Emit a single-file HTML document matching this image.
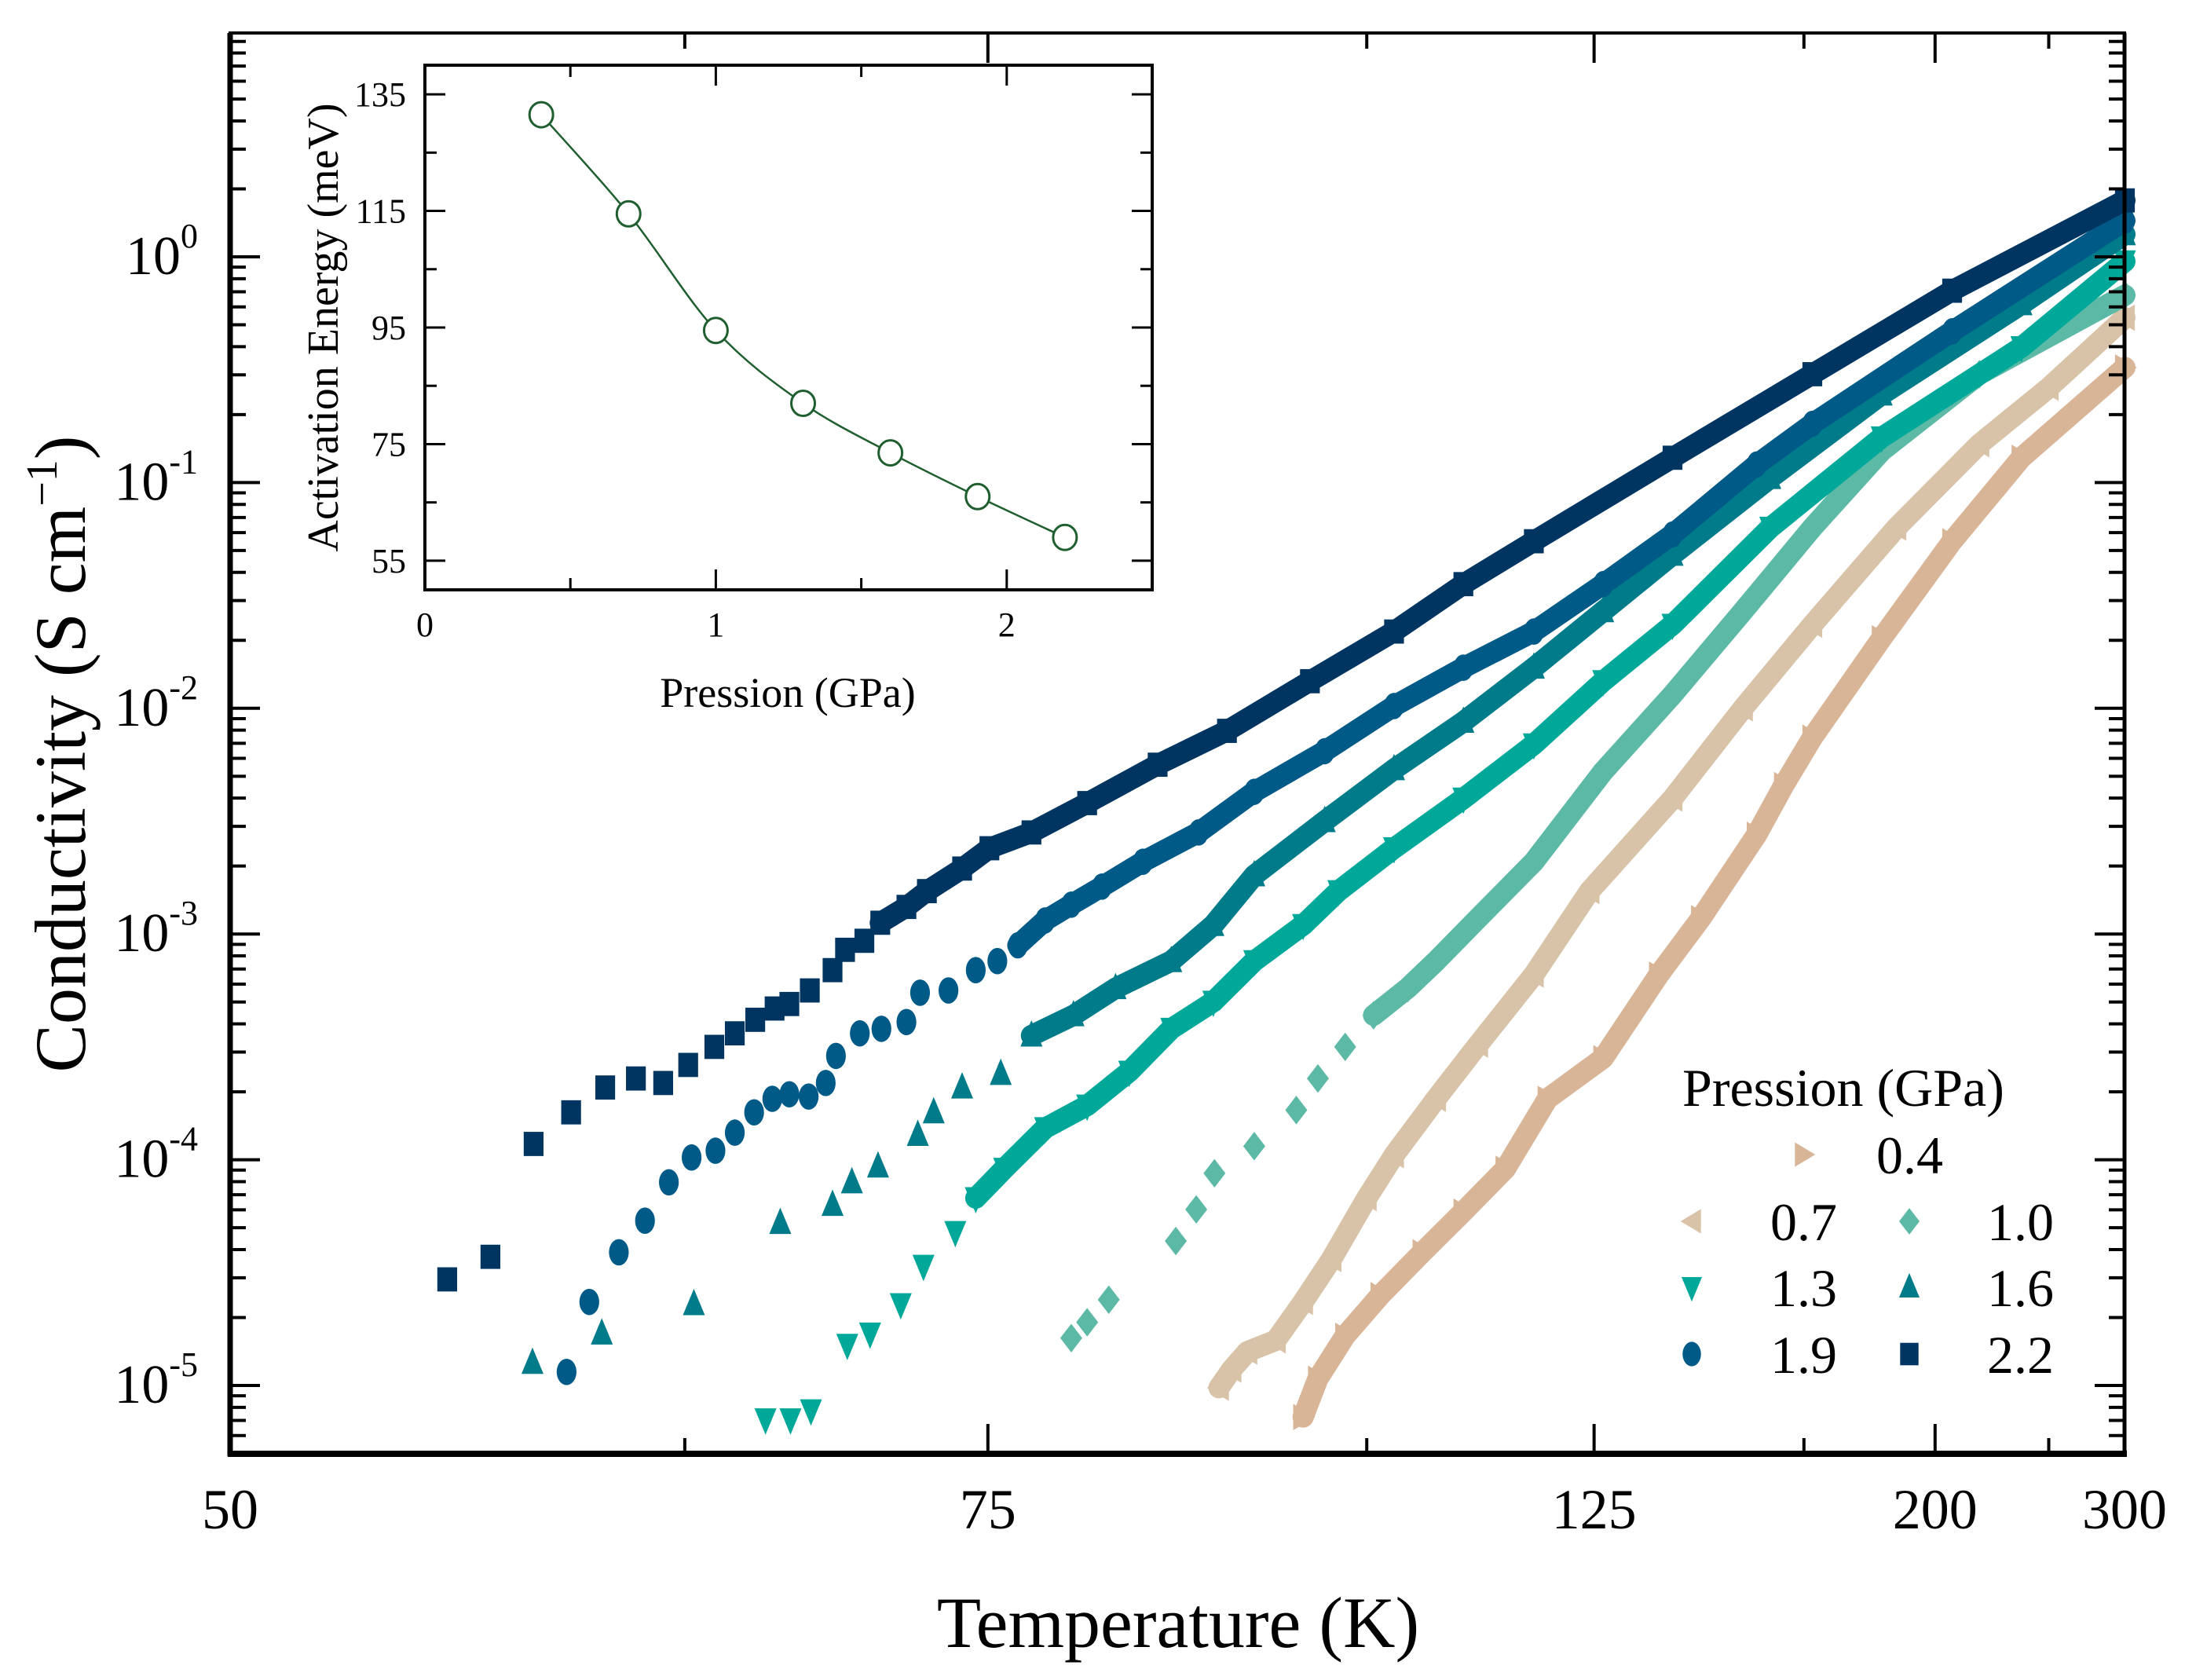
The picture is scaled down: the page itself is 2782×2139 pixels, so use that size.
<!DOCTYPE html>
<html><head><meta charset="utf-8"><style>
html,body{margin:0;padding:0;background:#fff}
svg{display:block;font-family:"Liberation Serif",serif}
</style></head><body>
<svg id="chart" width="2782" height="2139" viewBox="0 0 2782 2139" xmlns="http://www.w3.org/2000/svg">
<rect width="2782" height="2139" fill="#fff"/>
<g id="series"></g>
<g id="axes"></g>
<g id="inset"></g>
<g id="legend"></g>
</svg>
<script>
// ---- main chart data: x = 1000/T (K^-1), y = log10(sigma / S cm^-1)
const pressLabels=["0.4","0.7","1.0","1.3","1.6","1.9","2.2"];
const invT_04=[10.56,10.43,10.19,9.88,9.51,9.15,8.78,8.41,7.92,7.43,7.06,6.57,6.33,6.08,5.47,4.85,4.24,3.33];
const logS_04=[-5.14,-4.97,-4.78,-4.60,-4.41,-4.23,-4.04,-3.73,-3.55,-3.18,-2.93,-2.56,-2.34,-2.13,-1.69,-1.26,-0.89,-0.49];
const invT_07=[11.30,11.19,11.05,10.80,10.56,10.31,10.00,9.76,9.39,9.02,8.53,8.04,7.31,6.69,6.08,5.34,4.61,4.00,3.33];
const logS_07=[-5.01,-4.93,-4.85,-4.80,-4.63,-4.44,-4.17,-3.98,-3.73,-3.49,-3.18,-2.81,-2.40,-2.00,-1.63,-1.20,-0.83,-0.58,-0.27];
const invT_10=[12.60,12.46,12.27,11.68,11.50,11.34,10.99,10.62,10.43,10.19,9.94,9.64,9.39,9.02,8.53,7.92,7.31,6.69,6.08,5.47,4.61,3.33];
const logS_10=[-4.79,-4.72,-4.62,-4.36,-4.22,-4.06,-3.94,-3.78,-3.64,-3.50,-3.36,-3.24,-3.12,-2.93,-2.68,-2.28,-1.94,-1.57,-1.20,-0.86,-0.52,-0.17];
const invT_13=[15.29,15.07,14.89,14.57,14.37,14.10,13.90,13.62,13.44,13.19,12.83,12.46,12.09,11.72,11.35,10.99,10.56,10.25,9.76,9.15,8.53,7.92,7.31,6.45,5.47,4.24,3.33];
const logS_13=[-5.15,-5.15,-5.11,-4.82,-4.77,-4.64,-4.47,-4.32,-4.17,-4.04,-3.86,-3.76,-3.61,-3.42,-3.30,-3.12,-2.96,-2.81,-2.62,-2.40,-2.16,-1.88,-1.63,-1.20,-0.80,-0.40,-0.02];
const invT_16=[17.34,16.73,15.92,15.16,14.70,14.53,14.30,13.95,13.81,13.56,13.22,12.95,12.58,12.21,11.72,11.35,10.99,10.37,9.76,9.15,8.53,7.92,7.31,6.45,5.47,4.24,3.33];
const logS_16=[-4.90,-4.77,-4.64,-4.28,-4.20,-4.10,-4.03,-3.89,-3.79,-3.68,-3.62,-3.45,-3.36,-3.24,-3.12,-2.96,-2.74,-2.50,-2.27,-2.06,-1.82,-1.57,-1.32,-0.98,-0.61,-0.21,0.10];
const invT_19=[17.04,16.84,16.58,16.35,16.14,15.94,15.73,15.56,15.39,15.23,15.08,14.91,14.76,14.67,14.46,14.27,14.05,13.93,13.68,13.44,13.25,13.07,12.83,12.60,12.33,11.97,11.48,10.99,10.37,9.76,9.15,8.53,7.92,7.31,6.57,6.08,4.85,3.33];
const logS_19=[-4.94,-4.63,-4.41,-4.27,-4.10,-3.99,-3.96,-3.88,-3.79,-3.73,-3.71,-3.72,-3.66,-3.54,-3.44,-3.42,-3.39,-3.26,-3.25,-3.16,-3.12,-3.05,-2.94,-2.87,-2.79,-2.68,-2.55,-2.37,-2.19,-1.99,-1.82,-1.66,-1.45,-1.23,-0.92,-0.74,-0.33,0.16];
const invT_22=[18.09,17.71,17.33,17.00,16.70,16.43,16.19,15.97,15.74,15.56,15.38,15.21,15.08,14.90,14.70,14.59,14.42,14.28,14.05,13.87,13.56,13.32,12.95,12.46,11.84,11.23,10.50,9.76,9.15,8.53,7.31,6.08,4.85,3.33];
const logS_22=[-4.53,-4.43,-3.93,-3.79,-3.68,-3.64,-3.66,-3.58,-3.50,-3.44,-3.38,-3.33,-3.31,-3.25,-3.16,-3.07,-3.03,-2.95,-2.88,-2.81,-2.71,-2.62,-2.55,-2.42,-2.25,-2.10,-1.88,-1.66,-1.45,-1.26,-0.89,-0.52,-0.15,0.25];
// ---- inset data
const insetP=[0.4,0.7,1.0,1.3,1.6,1.9,2.2];
const insetEa=[131.5,114.5,94.5,82,73.5,66,59];
const xTickT=[50,75,125,200,300];
const xMinorT=[62.5,100,162.5,250];
const yDecades=[0,-1,-2,-3,-4,-5];
const insetYTicks=[55,75,95,115,135];
const insetXTicks=[0,1,2];

const NS="http://www.w3.org/2000/svg";
function mk(tag,attrs,parent){const e=document.createElementNS(NS,tag);for(const k in attrs)e.setAttribute(k,attrs[k]);parent.appendChild(e);return e;}

const L=293,R=2705,T=42,B=1851;
function xInv(inv){return L+(20-inv)/(20-1000/300)*(R-L);}
function xT(t){return xInv(1000/t);}
const Y0=327,DEC=287.4;
function yLog(v){return Y0-v*DEC;}

const seriesDefs=[
 {lab:"0.4",x:invT_04,y:logS_04,c:"#d9b598",m:"right",dense:99},
 {lab:"0.7",x:invT_07,y:logS_07,c:"#d8c2a8",m:"left",dense:99},
 {lab:"1.0",x:invT_10,y:logS_10,c:"#5bb9a6",m:"diamond",dense:10.0},
 {lab:"1.3",x:invT_13,y:logS_13,c:"#00a89a",m:"down",dense:13.5},
 {lab:"1.6",x:invT_16,y:logS_16,c:"#007b89",m:"up",dense:13.0},
 {lab:"1.9",x:invT_19,y:logS_19,c:"#005a88",m:"circle",dense:13.1},
 {lab:"2.2",x:invT_22,y:logS_22,c:"#003561",m:"square",dense:14.3}
];
function marker(g,type,cx,cy,s,col){
  let e;
  if(type==="square") e=mk("rect",{x:cx-s*0.45,y:cy-s*0.55,width:s*0.9,height:s*1.1,fill:col},g);
  else if(type==="circle") e=mk("ellipse",{cx:cx,cy:cy,rx:s*0.45,ry:s*0.6,fill:col},g);
  else {
    let p;
    if(type==="up") p=[[cx,cy-s*0.7],[cx+s*0.5,cy+s*0.5],[cx-s*0.5,cy+s*0.5]];
    else if(type==="down") p=[[cx,cy+s*0.7],[cx+s*0.5,cy-s*0.5],[cx-s*0.5,cy-s*0.5]];
    else if(type==="diamond") p=[[cx,cy-s*0.65],[cx+s*0.5,cy],[cx,cy+s*0.65],[cx-s*0.5,cy]];
    else if(type==="left") p=[[cx-s*0.55,cy],[cx+s*0.45,cy-s*0.6],[cx+s*0.45,cy+s*0.6]];
    else p=[[cx+s*0.55,cy],[cx-s*0.45,cy-s*0.6],[cx-s*0.45,cy+s*0.6]];
    e=mk("polygon",{points:p.map(q=>q.join(",")).join(" "),fill:col},g);
  }
  return e;
}
const sg=document.getElementById("series");
seriesDefs.forEach(sd=>{
  const g=mk("g",{},sg);
  
  
  let seg=[];
  for(let i=0;i<sd.x.length;i++){
    if(sd.x[i]<=sd.dense) seg.push(xInv(sd.x[i])+","+yLog(sd.y[i]));
  }
  if(seg.length>1){
    const pl=mk("polyline",{points:seg.join(" "),fill:"none",stroke:sd.c,"stroke-width":27,"stroke-linejoin":"round","stroke-linecap":"round"},g);
    
    
  }
  for(let i=0;i<sd.x.length;i++){
    const m=marker(g,sd.m,xInv(sd.x[i]),yLog(sd.y[i]),28,sd.c);
    
    
  }
});

const ag=document.getElementById("axes");
const fr=mk("rect",{x:L,y:T,width:R-L,height:B-T,fill:"none",stroke:"#000","stroke-width":4},ag);


mk("line",{x1:L,y1:T,x2:L,y2:B+3,stroke:"#000","stroke-width":7},ag);
mk("line",{x1:L-3,y1:B,x2:R+3,y2:B,stroke:"#000","stroke-width":8},ag);
mk("line",{x1:R,y1:T,x2:R,y2:B,stroke:"#000","stroke-width":5},ag);
yDecades.forEach(d=>{
  const y=yLog(d);
  mk("line",{x1:L,y1:y,x2:L+38,y2:y,stroke:"#000","stroke-width":4},ag);
  mk("line",{x1:R,y1:y,x2:R-38,y2:y,stroke:"#000","stroke-width":4},ag);
  for(let k=2;k<=9;k++){
    const ym=yLog(d+Math.log10(k));
    if(ym<T+5) continue;
    mk("line",{x1:L,y1:ym,x2:L+20,y2:ym,stroke:"#000","stroke-width":4},ag);
    mk("line",{x1:R,y1:ym,x2:R-20,y2:ym,stroke:"#000","stroke-width":4},ag);
  }
  const t=mk("text",{x:252,y:y+22,"font-size":70,"text-anchor":"end"},ag);
  
  
  t.appendChild(document.createTextNode("10"));
  const sup=mk("tspan",{dy:-34,"font-size":44},t);
  sup.textContent=(d===0?"0":"-"+(-d));
});
for(let k=5;k<=9;k++){const ym=yLog(-6+Math.log10(k));if(ym<B){mk("line",{x1:L,y1:ym,x2:L+20,y2:ym,stroke:"#000","stroke-width":4},ag);mk("line",{x1:R,y1:ym,x2:R-20,y2:ym,stroke:"#000","stroke-width":4},ag);}}
xTickT.forEach(tv=>{
  const x=xT(tv);
  mk("line",{x1:x,y1:B,x2:x,y2:B-38,stroke:"#000","stroke-width":4},ag);
  mk("line",{x1:x,y1:T,x2:x,y2:T+38,stroke:"#000","stroke-width":4},ag);
  const t=mk("text",{x:x,y:1946,"font-size":72,"text-anchor":"middle"},ag);
  
  
  t.textContent=tv;
});
xMinorT.forEach(tv=>{
  const x=xT(tv);
  mk("line",{x1:x,y1:B,x2:x,y2:B-20,stroke:"#000","stroke-width":4},ag);
  mk("line",{x1:x,y1:T,x2:x,y2:T+20,stroke:"#000","stroke-width":4},ag);
});
const xt=mk("text",{x:1500,y:2097,"font-size":92,"text-anchor":"middle"},ag);


xt.textContent="Temperature (K)";
const yt=mk("text",{x:0,y:0,"font-size":92,"text-anchor":"middle",transform:"translate(108,960) rotate(-90)"},ag);


yt.appendChild(document.createTextNode("Conductivity (S cm"));
const ys=mk("tspan",{dy:-36,"font-size":56},yt);ys.textContent="\u22121";
const ye=mk("tspan",{dy:36},yt);ye.textContent=")";

const ig=document.getElementById("inset");


const IL=541,IR=1467,IT=83,IB=751;
function ix(p){return IL+(p-0)/2.5*(IR-IL);}
function iy(v){return IB-(v-50)/90*(IB-IT);}
mk("rect",{x:IL,y:IT,width:IR-IL,height:IB-IT,fill:"#fff",stroke:"#000","stroke-width":4},ig);
for(let v=55;v<=135;v+=10){
  const major=insetYTicks.indexOf(v)>=0, len=major?26:15, y=iy(v);
  mk("line",{x1:IL,y1:y,x2:IL+len,y2:y,stroke:"#000","stroke-width":3},ig);
  mk("line",{x1:IR,y1:y,x2:IR-len,y2:y,stroke:"#000","stroke-width":3},ig);
}
insetYTicks.forEach(v=>{
  const t=mk("text",{x:517,y:iy(v)+15,"font-size":44,"text-anchor":"end"},ig);
  
  
  t.textContent=v;
});
for(let p=0.5;p<2.5;p+=0.5){
  const x=ix(p),len=(p%1===0)?26:15;
  mk("line",{x1:x,y1:IB,x2:x,y2:IB-len,stroke:"#000","stroke-width":3},ig);
  mk("line",{x1:x,y1:IT,x2:x,y2:IT+len,stroke:"#000","stroke-width":3},ig);
}
insetXTicks.forEach(p=>{
  const t=mk("text",{x:ix(p),y:810,"font-size":44,"text-anchor":"middle"},ig);
  
  
  t.textContent=p;
});
const ixt=mk("text",{x:1003,y:900,"font-size":54,"text-anchor":"middle"},ig);


ixt.textContent="Pression (GPa)";
const iyt=mk("text",{x:0,y:0,"font-size":56,"text-anchor":"middle",transform:"translate(430,417) rotate(-90)"},ig);


iyt.textContent="Activation Energy (meV)";
const pts=insetP.map((p,i)=>[ix(p),iy(insetEa[i])]);
let d="M"+pts[0].join(",");
for(let i=0;i<pts.length-1;i++){
  const p0=pts[Math.max(0,i-1)],p1=pts[i],p2=pts[i+1],p3=pts[Math.min(pts.length-1,i+2)];
  const c1=[p1[0]+(p2[0]-p0[0])/6,p1[1]+(p2[1]-p0[1])/6],c2=[p2[0]-(p3[0]-p1[0])/6,p2[1]-(p3[1]-p1[1])/6];
  d+=" C"+c1.join(",")+" "+c2.join(",")+" "+p2.join(",");
}
const cv=mk("path",{d:d,fill:"none",stroke:"#1f5e2e","stroke-width":2.5},ig);


pts.forEach(p=>{
  const c=mk("ellipse",{cx:p[0],cy:p[1],rx:15,ry:16,fill:"#fff",stroke:"#1f5e2e","stroke-width":3},ig);
  
  
});

const lg=document.getElementById("legend");


const lt=mk("text",{x:2142,y:1408,"font-size":68},lg);


lt.textContent="Pression (GPa)";
const legPos=[[2297,2389,1470],[2154,2254,1555],[2431,2530,1555],[2154,2254,1639],[2431,2530,1639],[2154,2254,1724],[2431,2530,1724]];
seriesDefs.forEach((sd,i)=>{
  const lp=legPos[i];
  const e=mk("g",{},lg);
  
  
  marker(e,sd.m,lp[0],lp[2],26,sd.c);
  const t=mk("text",{x:lp[1],y:lp[2]+24,"font-size":68},e);
  t.textContent=sd.lab;
});
</script>
</body></html>
